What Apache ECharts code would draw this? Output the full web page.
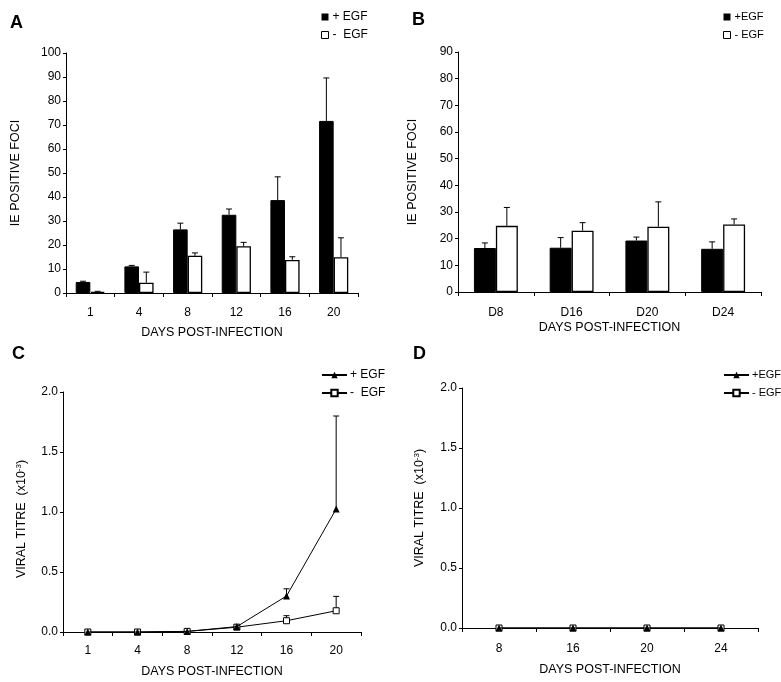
<!DOCTYPE html>
<html><head><meta charset="utf-8">
<script src="https://cdn.jsdelivr.net/npm/echarts@6/dist/echarts.min.js"></script>
<style>html,body{margin:0;padding:0;background:#fff}#c{width:781px;height:682px}</style>
</head><body><div id="c"></div>
<script>
// ---- data ----
const daysA = ['1', '4', '8', '12', '16', '20'];
const aPlus = [4.6, 11.1, 26.5, 32.6, 38.7, 71.7];
const aPlusErr = [0.3, 0.4, 2.6, 2.4, 9.7, 17.9];
const aMinus = [0.5, 4.3, 15.5, 19.5, 13.8, 14.9];
const aMinusErr = [0.2, 4.4, 1.2, 1.6, 1.3, 8.1];

const daysB = ['D8', 'D16', 'D20', 'D24'];
const bPlus = [16.5, 16.6, 19.3, 16.2];
const bPlusErr = [1.9, 3.8, 1.3, 2.6];
const bMinus = [24.8, 23.0, 24.5, 25.3];
const bMinusErr = [6.9, 3.0, 9.3, 2.1];

const daysC = ['1', '4', '8', '12', '16', '20'];
const cPlus = [0, 0, 0.005, 0.045, 0.30, 1.025];
const cPlusErr = [0, 0, 0, 0, 0.06, 0.775];
const cMinus = [0, 0, 0.005, 0.04, 0.094, 0.177];
const cMinusErr = [0, 0, 0, 0, 0.042, 0.12];

const daysD = ['8', '16', '20', '24'];
const dPlus = [0, 0, 0, 0];
const dMinus = [0, 0, 0, 0];

const legendA = ['+ EGF', '-  EGF'];
const legendB = ['+EGF', '- EGF'];
const legendC = ['+ EGF', '-  EGF'];
const legendD = ['+EGF', '- EGF'];
const panelLetters = ['A', 'B', 'C', 'D'];
const xTitle = 'DAYS POST-INFECTION';
const yTitleAB = 'IE POSITIVE FOCI';
const yTitleCD = 'VIRAL TITRE  (x10{sup|-3})';

// ---- styling helpers ----
const FONT = 'Liberation Sans, Arial, sans-serif';
const BLACK = '#000';
const labelMap = {
  'A+': legendA[0], 'A-': legendA[1], 'B+': legendB[0], 'B-': legendB[1],
  'C+': legendC[0], 'C-': legendC[1], 'D+': legendD[0], 'D-': legendD[1]
};

function catAxis(grid, data, margin, nameGap) {
  return {
    type: 'category', gridIndex: grid, data: data,
    axisLine: { lineStyle: { color: BLACK, width: 1 } },
    axisTick: { show: true, length: 4, lineStyle: { color: BLACK } },
    axisLabel: { color: BLACK, fontFamily: FONT, fontSize: 12, margin: margin },
    name: xTitle, nameLocation: 'middle', nameGap: nameGap,
    nameTextStyle: { color: BLACK, fontFamily: FONT, fontSize: 12.5 }
  };
}
function valAxis(grid, max, interval, name, nameGap, fmt, namePad) {
  return {
    type: 'value', gridIndex: grid, min: 0, max: max, interval: interval,
    splitLine: { show: false },
    axisLine: { show: true, lineStyle: { color: BLACK, width: 1 } },
    axisTick: { show: true, length: 3, lineStyle: { color: BLACK } },
    axisLabel: { color: BLACK, fontFamily: FONT, fontSize: 12, margin: 5, formatter: fmt },
    name: name, nameLocation: 'middle', nameGap: nameGap,
    nameTextStyle: Object.assign({ color: BLACK, fontFamily: FONT, fontSize: 12.5,
      rich: { sup: { fontSize: 8, fontFamily: FONT, color: BLACK, verticalAlign: 'top', lineHeight: 8 } } },
      namePad ? { padding: namePad } : {})
  };
}

function barErr(name, grid, vals, errs, side, frac) {
  return {
    type: 'custom', name: name, xAxisIndex: grid, yAxisIndex: grid, z: 5,
    data: vals.map((v, i) => [i, v, errs[i]]),
    renderItem: function (params, api) {
      const i = api.value(0), v = api.value(1), e = api.value(2);
      const band = api.size([1, 0])[0];
      const p = api.coord([i, v]);
      const q = api.coord([i, v + e]);
      const x = p[0] + side * frac * band;
      const st = { stroke: BLACK, lineWidth: 1 };
      return { type: 'group', children: [
        { type: 'line', shape: { x1: x, y1: p[1], x2: x, y2: q[1] }, style: st },
        { type: 'line', shape: { x1: x - 3, y1: q[1], x2: x + 3, y2: q[1] }, style: st }
      ] };
    }
  };
}
function lineErr(name, grid, vals, errs) {
  return {
    type: 'custom', name: name, xAxisIndex: grid, yAxisIndex: grid, z: 1,
    data: vals.map((v, i) => [i, v, errs[i]]),
    renderItem: function (params, api) {
      const i = api.value(0), v = api.value(1), e = api.value(2);
      if (!e) return null;
      const p = api.coord([i, v]);
      const q = api.coord([i, v + e]);
      const st = { stroke: BLACK, lineWidth: 1 };
      return { type: 'group', children: [
        { type: 'line', shape: { x1: p[0], y1: p[1], x2: p[0], y2: q[1] }, style: st },
        { type: 'line', shape: { x1: p[0] - 3, y1: q[1], x2: p[0] + 3, y2: q[1] }, style: st }
      ] };
    }
  };
}
function barSeries(name, grid, vals, filled, width) {
  return {
    type: 'bar', name: name, xAxisIndex: grid, yAxisIndex: grid, data: vals,
    barWidth: width, barGap: '0%',
    itemStyle: filled ? { color: BLACK, borderColor: BLACK, borderWidth: 1 }
                      : { color: '#fff', borderColor: BLACK, borderWidth: 1.3 }
  };
}
function lineSeries(name, grid, vals, plus) {
  return {
    type: 'line', name: name, xAxisIndex: grid, yAxisIndex: grid, data: vals,
    symbol: plus ? 'triangle' : 'rect', symbolSize: plus ? 7 : 6, showSymbol: true,
    lineStyle: { color: BLACK, width: 1 },
    itemStyle: plus ? { color: BLACK } : { color: '#fff', borderColor: BLACK, borderWidth: 1 },
    z: plus ? 4 : 3
  };
}
function legend(names, left, top, isLine, fs) {
  return {
    left: left, top: top, orient: 'vertical', padding: 0,
    itemGap: 4, itemWidth: isLine ? 25 : 7, itemHeight: isLine ? 8 : 7,
    icon: isLine ? undefined : 'rect',
    data: names.map((n) => isLine ? { name: n } : {
      name: n, icon: 'rect',
      itemStyle: n.endsWith('+') ? { color: BLACK, borderColor: BLACK, borderWidth: 0 }
                                 : { color: '#fff', borderColor: BLACK, borderWidth: 1 }
    }),
    formatter: (n) => labelMap[n],
    textStyle: { color: BLACK, fontFamily: FONT, fontSize: fs, lineHeight: 14,
                 padding: [0, 0, 0, isLine ? -2 : -1] },
    selectedMode: false
  };
}
function letter(t, left, top) {
  return { text: t, left: left, top: top, padding: 0,
    textStyle: { fontFamily: FONT, fontWeight: 'bold', fontSize: 18, color: BLACK } };
}

const option = {
  backgroundColor: '#fff',
  animation: false,
  title: [letter(panelLetters[0], 10, 14), letter(panelLetters[1], 412, 11),
          letter(panelLetters[2], 12, 345), letter(panelLetters[3], 413, 345)],
  legend: [legend(['A+', 'A-'], 321, 10, false, 12), legend(['B+', 'B-'], 723, 10, false, 11),
           legend(['C+', 'C-'], 321, 368, true, 12), legend(['D+', 'D-'], 723, 368, true, 11)],
  grid: [
    { left: 66, top: 53, width: 292, height: 240 },
    { left: 458, top: 52, width: 303, height: 240 },
    { left: 63, top: 392, width: 298, height: 240 },
    { left: 462, top: 388, width: 296, height: 240 }
  ],
  xAxis: [catAxis(0, daysA, 14, 33), catAxis(1, daysB, 15, 29),
          catAxis(2, daysC, 13, 33), catAxis(3, daysD, 15, 35)],
  yAxis: [
    valAxis(0, 100, 10, yTitleAB, 44, null),
    valAxis(1, 90, 10, yTitleAB, 39, null),
    valAxis(2, 2, 0.5, yTitleCD, 35, (v) => v.toFixed(1), [0, 14, 0, 0]),
    valAxis(3, 2, 0.5, yTitleCD, 36, (v) => v.toFixed(1), null)
  ],
  series: [
    barSeries('A+', 0, aPlus, true, '30%'), barSeries('A-', 0, aMinus, false, '30%'),
    barErr('A+e', 0, aPlus, aPlusErr, -1, 0.15), barErr('A-e', 0, aMinus, aMinusErr, 1, 0.15),
    barSeries('B+', 1, bPlus, true, '29%'), barSeries('B-', 1, bMinus, false, '29%'),
    barErr('B+e', 1, bPlus, bPlusErr, -1, 0.145), barErr('B-e', 1, bMinus, bMinusErr, 1, 0.145),
    lineErr('C+e', 2, cPlus, cPlusErr), lineErr('C-e', 2, cMinus, cMinusErr),
    lineSeries('C-', 2, cMinus, false), lineSeries('C+', 2, cPlus, true),
    lineSeries('D-', 3, dMinus, false), lineSeries('D+', 3, dPlus, true)
  ]
};
const chart = echarts.init(document.getElementById('c'), null, { renderer: 'canvas' });
chart.setOption(option);
</script></body></html>
